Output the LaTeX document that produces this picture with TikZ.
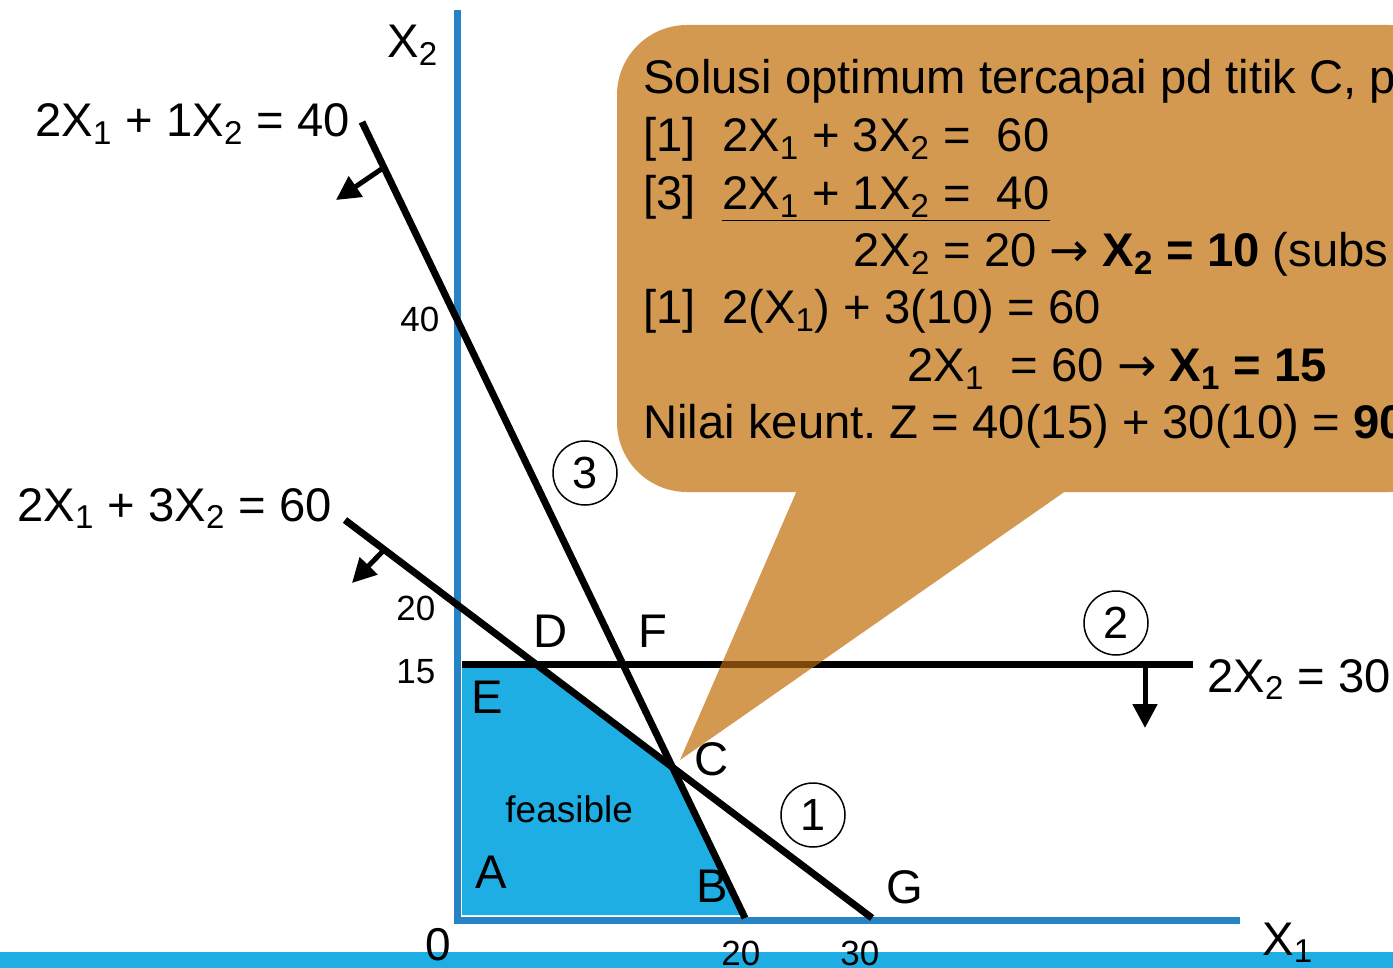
\documentclass[tikz,border=0pt]{standalone}
\usepackage{fontspec}
\setmainfont{Liberation Sans}
\newfontfamily\arrowfont{DejaVu Sans}
\usetikzlibrary{arrows.meta}

\definecolor{axisBlue}{RGB}{38,131,198}
\definecolor{feasBlue}{RGB}{31,174,227}
\definecolor{noteOrange}{RGB}{211,153,81}
\definecolor{noteDark}{RGB}{125,72,12}

\newcommand{\sbs}[1]{\textsubscript{#1}}
\newcommand{\goesto}{{\arrowfont →}}

\begin{document}
\begin{tikzpicture}[
  x=0.5pt, y=-0.5pt,
  lbl/.style={inner sep=0pt, anchor=base west, font=\fontsize{23.6}{28}\selectfont},
  tick/.style={inner sep=0pt, anchor=base west, font=\fontsize{17.5}{20}\selectfont},
  note/.style={inner sep=0pt, anchor=base west, font=\fontsize{23.6}{28}\selectfont},
  constraint/.style={line width=3.5pt},
  axis/.style={line width=3.5pt, draw=axisBlue},
  push/.style={line width=2.5pt, -{Triangle[length=12pt, width=12pt]}},
  numcirc/.style={circle, draw, line width=0.75pt, minimum size=32pt, inner sep=0pt, font=\fontsize{22.5}{26}\selectfont}
]

% Frame
\useasboundingbox (0,0) rectangle (1393,968);
\clip (0,0) rectangle (1393,968);
\fill[white] (0,0) rectangle (1393,968);

% Bottom strip
\fill[feasBlue] (0,952) rectangle (1393,968);

% Feasible region
\fill[feasBlue] (462,668) -- (538,668) -- (672,767) -- (742,915) -- (462,915) -- cycle;

% Axes
\coordinate (ytop) at (457,10);
\coordinate (O) at (457,920);
\coordinate (xend) at (1240,920);
\draw[axis] (ytop) -- (O) -- (xend);

% Constraint lines (1), (2), (3)
\coordinate (c1a) at (345,520);
\coordinate (c1b) at (872,918);
\coordinate (c2a) at (462,664);
\coordinate (c2b) at (1193,664);
\coordinate (c3a) at (362,122);
\coordinate (c3b) at (745,918);
\draw[constraint] (c1a) -- (c1b);
\draw[constraint] (c2a) -- (c2b);
\draw[constraint] (c3a) -- (c3b);

% Direction arrows
\coordinate (p3) at (383,168);
\coordinate (p3tip) at (336,200);
\coordinate (p1) at (384,550);
\coordinate (p1tip) at (352,583);
\coordinate (p2) at (1145,664);
\coordinate (p2tip) at (1145,728);
\draw[push] (p3) -- (p3tip);
\draw[push] (p1) -- (p1tip);
\draw[push] (p2) -- (p2tip);

% Callout
\fill[noteOrange, rounded corners=35pt] (617,25) rectangle (1460,492);
\fill[noteOrange] (798,488) -- (680,760) -- (1070,488) -- cycle;
\begin{scope}
  \clip (798,488) -- (680,760) -- (1070,488) -- cycle;
  \draw[constraint, noteDark] (c2a) -- (c2b);
\end{scope}

% Callout text
\node[note] (n1) at (643,94) {Solusi optimum tercapai pd titik C, p};
\node[note] (n2) at (643,152) {[1]\ \ 2X\sbs{1} + 3X\sbs{2} = \ 60};
\node[note] (n3) at (643,210) {[3]\ \ \underline{2X\sbs{1} + 1X\sbs{2} = \ 40}};
\node[note] (n4) at (853,267) {2X\sbs{2} = 20 \goesto\ \textbf{X\sbs{2} = 10} (subs};
\node[note] (n5) at (643,324) {[1]\ \ 2(X\sbs{1}) + 3(10) = 60};
\node[note] (n6) at (907,382) {2X\sbs{1} \ = 60 \goesto\ \textbf{X\sbs{1} = 15}};
\node[note] (n7) at (643,438) {Nilai keunt.\ Z = 40(15) + 30(10) = \textbf{90}};

% Equation labels
\node[lbl] (eq3) at (35,137) {2X\sbs{1} + 1X\sbs{2} = 40};
\node[lbl] (eq1) at (17,521) {2X\sbs{1} + 3X\sbs{2} = 60};
\node[lbl] (eq2) at (1207,692) {2X\sbs{2} = 30};

% Axis labels and ticks
\node[lbl] (x2lbl) at (387,58) {X\sbs{2}};
\node[lbl] (x1lbl) at (1262,955) {X\sbs{1}};
\node[lbl, font=\fontsize{23}{26}\selectfont] (orig) at (425,960) {0};
\node[tick] (y40) at (400,332) {40};
\node[tick] (y20) at (396,620) {20};
\node[tick] (y15) at (396,683) {15};
\node[tick] (x20) at (721,965) {20};
\node[tick] (x30) at (840,965) {30};

% Corner points
\node[lbl] (ptD) at (533,647) {D};
\node[lbl] (ptF) at (638,647) {F};
\node[lbl] (ptE) at (471,713) {E};
\node[lbl] (ptC) at (694,775) {C};
\node[lbl] (ptA) at (475,888) {A};
\node[lbl] (ptB) at (696,902) {B};
\node[lbl] (ptG) at (886,903) {G};
\node[lbl, font=\fontsize{18.5}{22}\selectfont] (feas) at (505,822) {feasible};

% Constraint numbers
\node[numcirc] (k1) at (813,815) {1};
\node[numcirc] (k2) at (1116,623) {2};
\node[numcirc] (k3) at (585,473) {3};

\end{tikzpicture}
\end{document}
